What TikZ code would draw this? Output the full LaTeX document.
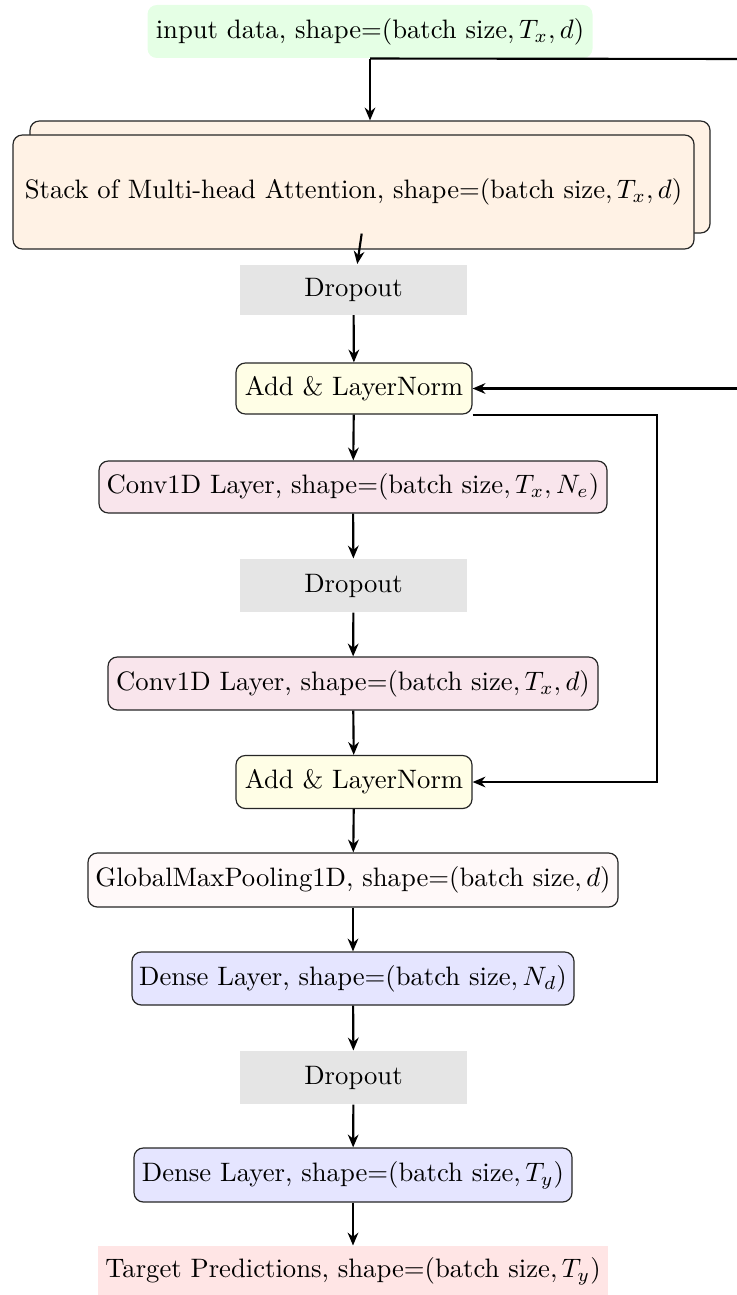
\documentclass[tikz,border=0pt]{standalone}
\usetikzlibrary{arrows.meta}
\newlength\pxl
\setlength\pxl{0.375pt}
\newcommand\shp[1]{shape$=$(batch size$, #1$)}
\tikzset{
  blk/.style={rounded corners=3.5pt, draw=black!85, line width=0.45pt, inner sep=0pt, align=center},
  flat/.style={inner sep=0pt, align=center},
  arr/.style={-{Stealth[length=4.8pt,width=4pt]}, line width=0.8pt},
  wire/.style={line width=0.8pt},
}
\begin{document}
\begin{tikzpicture}[x=0.375pt, y=-0.375pt]
\useasboundingbox (0,0) rectangle (736,1295);

% input and attention stack
\node[flat, rounded corners=3.5pt, fill=green!10, minimum width=445\pxl, minimum height=53\pxl] (input) at (370,31.5)
  {input data, \shp{T_x, d}};
\node[blk, fill=orange!10, minimum width=680\pxl, minimum height=112\pxl] (mhaback) at (370,177) {};
\node[blk, fill=orange!10, minimum width=681\pxl, minimum height=114\pxl] (mha) at (353.5,192)
  {Stack of Multi-head Attention, \shp{T_x, d}};

% encoder block
\node[flat, fill=gray!20, minimum width=227\pxl, minimum height=50\pxl] (drop1) at (353.5,289.5) {Dropout};
\node[blk, fill=yellow!10, minimum width=236\pxl, minimum height=51\pxl] (add1) at (354,388.5) {Add \& LayerNorm};
\node[blk, fill=purple!10, minimum width=508\pxl, minimum height=52\pxl] (conv1) at (353,487)
  {Conv1D Layer, \shp{T_x, N_e}};
\node[flat, fill=gray!20, minimum width=227\pxl, minimum height=53\pxl] (drop2) at (353.5,585.5) {Dropout};
\node[blk, fill=purple!10, minimum width=490\pxl, minimum height=53\pxl] (conv2) at (353,683.5)
  {Conv1D Layer, \shp{T_x, d}};
\node[blk, fill=yellow!10, minimum width=236\pxl, minimum height=53\pxl] (add2) at (354,782) {Add \& LayerNorm};

% output head
\node[blk, fill=pink!10, minimum width=530\pxl, minimum height=54\pxl] (gmp) at (353,880)
  {GlobalMaxPooling1D, \shp{d}};
\node[blk, fill=blue!10, minimum width=442\pxl, minimum height=53\pxl] (dense1) at (353,978.5)
  {Dense Layer, \shp{N_d}};
\node[flat, fill=gray!20, minimum width=227\pxl, minimum height=53\pxl] (drop3) at (353.5,1077.5) {Dropout};
\node[blk, fill=blue!10, minimum width=438\pxl, minimum height=54\pxl] (dense2) at (353,1175)
  {Dense Layer, \shp{T_y}};
\node[flat, fill=red!10, minimum width=510\pxl, minimum height=50\pxl] (target) at (353,1271)
  {Target Predictions, \shp{T_y}};

% loop leaving and re-entering at the right
\coordinate (outR) at (760,59);
\coordinate (inR) at (760,388.5);

% connectors
\draw[arr] (input.south) -- (mhaback.north);
\draw[wire] (input.south) -- (outR);
\draw[arr] (mhaback) -- (drop1);
\draw[arr] (drop1) -- (add1);
\draw[arr] (inR) -- (add1.east);
\draw[arr] (add1) -- (conv1);
\draw[arr] (add1.south east) -- ++(184,0) |- (add2.east);
\draw[arr] (conv1) -- (drop2);
\draw[arr] (drop2) -- (conv2);
\draw[arr] (conv2) -- (add2);
\draw[arr] (add2) -- (gmp);
\draw[arr] (gmp) -- (dense1);
\draw[arr] (dense1) -- (drop3);
\draw[arr] (drop3) -- (dense2);
\draw[arr] (dense2) -- (target);
\end{tikzpicture}
\end{document}
